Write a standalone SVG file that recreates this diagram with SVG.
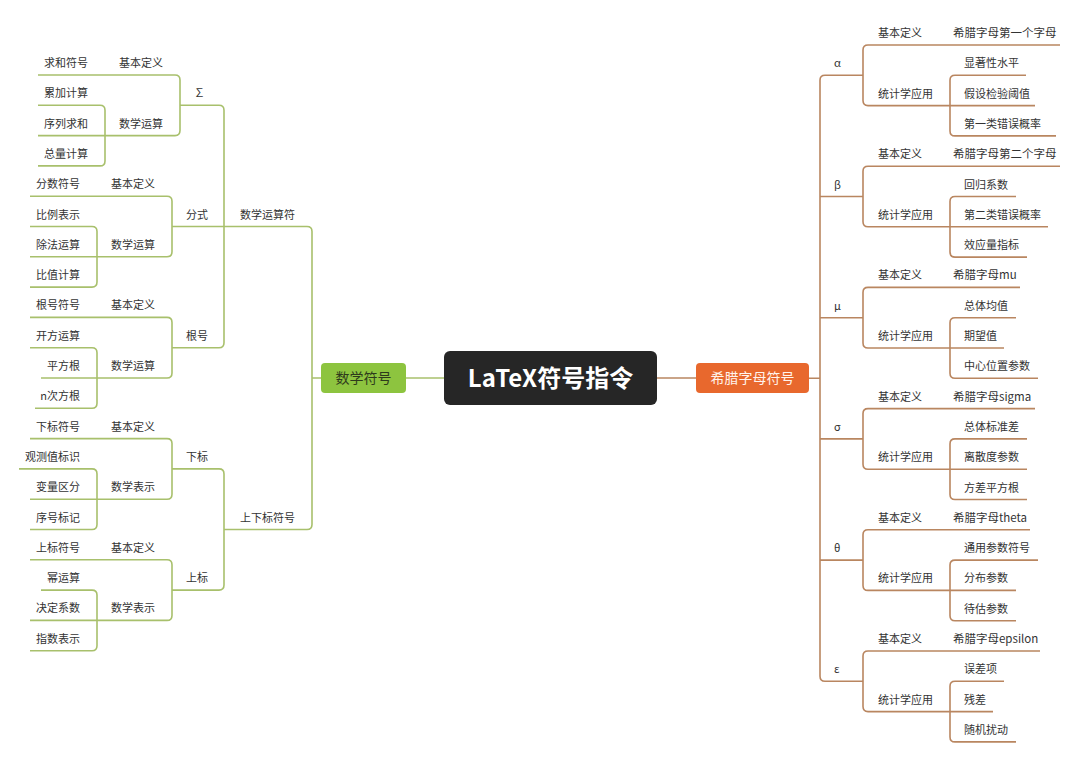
<svg xmlns="http://www.w3.org/2000/svg" width="1080" height="761" viewBox="0 0 1080 761">
<style>
text { font-family: "Noto Sans CJK SC", "Noto Sans", sans-serif; font-size: 11px; fill: #333; }
.e { text-anchor: end; }
.w { font-size: 11.5px; }
.gl { fill: none; stroke: #A8C06C; stroke-width: 1.6; }
.bl { fill: none; stroke: #B98660; stroke-width: 1.6; }
</style>
<rect width="1080" height="761" fill="#ffffff"/>
<g id="connectors">
  <path class="gl" d="M406 378 H444" stroke-width="2"/>
  <path class="bl" d="M657 378 H696" stroke-width="2"/>
  <path class="gl" d="M321 378 H312 M172 226.5 H307 Q312 226.5 312 231.5 V524.5 Q312 529.5 307 529.5 H224"/>
  <path class="gl" d="M180 105.3 H219 Q224 105.3 224 110.3 V342.7 Q224 347.7 219 347.7 H172"/>
  <path class="gl" d="M172 468.9 H219 Q224 468.9 224 473.9 V585.1 Q224 590.1 219 590.1 H172"/>
  <path class="gl" d="M38 75 H175 Q180 75 180 80 V130.6 Q180 135.6 175 135.6 H38"/>
  <path class="gl" d="M38 105.3 H100 Q105 105.3 105 110.3 V160.9 Q105 165.9 100 165.9 H38"/>
  <path class="gl" d="M30 196.2 H167 Q172 196.2 172 201.2 V251.8 Q172 256.8 167 256.8 H30"/>
  <path class="gl" d="M30 226.5 H92 Q97 226.5 97 231.5 V282.1 Q97 287.1 92 287.1 H30"/>
  <path class="gl" d="M30 317.4 H167 Q172 317.4 172 322.4 V373 Q172 378 167 378 H41"/>
  <path class="gl" d="M30 347.7 H92 Q97 347.7 97 352.7 V403.3 Q97 408.3 92 408.3 H35"/>
  <path class="gl" d="M30 438.6 H167 Q172 438.6 172 443.6 V494.2 Q172 499.2 167 499.2 H30"/>
  <path class="gl" d="M19 468.9 H92 Q97 468.9 97 473.9 V524.5 Q97 529.5 92 529.5 H30"/>
  <path class="gl" d="M30 559.8 H167 Q172 559.8 172 564.8 V615.4 Q172 620.4 167 620.4 H30"/>
  <path class="gl" d="M41 590.1 H92 Q97 590.1 97 595.1 V645.7 Q97 650.7 92 650.7 H30"/>
  <path class="bl" d="M809 378.3 H820 M825 75.3 Q820 75.3 820 80.3 V676.3 Q820 681.3 825 681.3"/>
  <path class="bl" d="M825 75.3 H863 M820 196.5 H863 M820 317.7 H863 M820 438.9 H863 M820 560.1 H863 M825 681.3 H863"/>
  <path class="bl" d="M1060 45 H868 Q863 45 863 50 V100.6 Q863 105.6 868 105.6 H1035"/>
  <path class="bl" d="M1026 75.3 H955 Q950 75.3 950 80.3 V130.9 Q950 135.9 955 135.9 H1056"/>
  <path class="bl" d="M1060 166.2 H868 Q863 166.2 863 171.2 V221.8 Q863 226.8 868 226.8 H1048"/>
  <path class="bl" d="M1016 196.5 H955 Q950 196.5 950 201.5 V252.1 Q950 257.1 955 257.1 H1027"/>
  <path class="bl" d="M1020 287.4 H868 Q863 287.4 863 292.4 V343 Q863 348 868 348 H1004"/>
  <path class="bl" d="M1016 317.7 H955 Q950 317.7 950 322.7 V373.3 Q950 378.3 955 378.3 H1038"/>
  <path class="bl" d="M1035 408.6 H868 Q863 408.6 863 413.6 V464.2 Q863 469.2 868 469.2 H1027"/>
  <path class="bl" d="M1027 438.9 H955 Q950 438.9 950 443.9 V494.5 Q950 499.5 955 499.5 H1027"/>
  <path class="bl" d="M1030 529.8 H868 Q863 529.8 863 534.8 V585.4 Q863 590.4 868 590.4 H1016"/>
  <path class="bl" d="M1038 560.1 H955 Q950 560.1 950 565.1 V615.7 Q950 620.7 955 620.7 H1016"/>
  <path class="bl" d="M1040 651 H868 Q863 651 863 656 V706.6 Q863 711.6 868 711.6 H993"/>
  <path class="bl" d="M1004 681.3 H955 Q950 681.3 950 686.3 V736.9 Q950 741.9 955 741.9 H1016"/>
</g>
<g id="root">
  <rect x="444" y="351" width="213" height="54" rx="6" fill="#262626"/>
  <text x="550.5" y="386.5" text-anchor="middle" style="font-size:24px;font-weight:bold;fill:#fff">LaTeX符号指令</text>
</g>
<g id="math">
  <rect x="321" y="363" width="85" height="30" rx="4" fill="#8DC43F"/>
  <text x="363.5" y="383" text-anchor="middle" style="font-size:14px;fill:#2e3a1c">数学符号</text>
</g>
<g id="greek">
  <rect x="696" y="363" width="113" height="30" rx="4" fill="#E8682D"/>
  <text x="752.5" y="383" text-anchor="middle" style="font-size:14px;fill:#fff3ec">希腊字母符号</text>
</g>
<g id="left-l2">
  <text class="e" x="295" y="218.5">数学运算符</text>
  <text class="e" x="295" y="521.5">上下标符号</text>
</g>
<g id="sigma-sum">
  <text class="e" x="205" y="97.3">∑</text>
  <text class="e" x="163" y="67">基本定义</text>
  <text class="e" x="88" y="67">求和符号</text>
  <text class="e" x="163" y="127.6">数学运算</text>
  <text class="e" x="88" y="97.3">累加计算</text>
  <text class="e" x="88" y="127.6">序列求和</text>
  <text class="e" x="88" y="157.9">总量计算</text>
</g>
<g id="frac">
  <text class="e" x="208" y="218.5">分式</text>
  <text class="e" x="155" y="188.2">基本定义</text>
  <text class="e" x="80" y="188.2">分数符号</text>
  <text class="e" x="155" y="248.8">数学运算</text>
  <text class="e" x="80" y="218.5">比例表示</text>
  <text class="e" x="80" y="248.8">除法运算</text>
  <text class="e" x="80" y="279.1">比值计算</text>
</g>
<g id="sqrt">
  <text class="e" x="208" y="339.7">根号</text>
  <text class="e" x="155" y="309.4">基本定义</text>
  <text class="e" x="80" y="309.4">根号符号</text>
  <text class="e" x="155" y="370">数学运算</text>
  <text class="e" x="80" y="339.7">开方运算</text>
  <text class="e" x="80" y="370">平方根</text>
  <text class="e" x="80" y="400.3">n次方根</text>
</g>
<g id="sub">
  <text class="e" x="208" y="460.9">下标</text>
  <text class="e" x="155" y="430.6">基本定义</text>
  <text class="e" x="80" y="430.6">下标符号</text>
  <text class="e" x="155" y="491.2">数学表示</text>
  <text class="e" x="80" y="460.9">观测值标识</text>
  <text class="e" x="80" y="491.2">变量区分</text>
  <text class="e" x="80" y="521.5">序号标记</text>
</g>
<g id="sup">
  <text class="e" x="208" y="582.1">上标</text>
  <text class="e" x="155" y="551.8">基本定义</text>
  <text class="e" x="80" y="551.8">上标符号</text>
  <text class="e" x="155" y="612.4">数学表示</text>
  <text class="e" x="80" y="582.1">幂运算</text>
  <text class="e" x="80" y="612.4">决定系数</text>
  <text class="e" x="80" y="642.7">指数表示</text>
</g>
<g id="alpha">
  <text x="834" y="67.3">α</text>
  <text x="878" y="37">基本定义</text>
  <text class="w" x="953" y="37">希腊字母第一个字母</text>
  <text x="878" y="97.6">统计学应用</text>
  <text x="964" y="67.3">显著性水平</text>
  <text x="964" y="97.6">假设检验阈值</text>
  <text x="964" y="127.9">第一类错误概率</text>
</g>
<g id="beta">
  <text x="834" y="188.5">β</text>
  <text x="878" y="158.2">基本定义</text>
  <text class="w" x="953" y="158.2">希腊字母第二个字母</text>
  <text x="878" y="218.8">统计学应用</text>
  <text x="964" y="188.5">回归系数</text>
  <text x="964" y="218.8">第二类错误概率</text>
  <text x="964" y="249.1">效应量指标</text>
</g>
<g id="mu">
  <text x="834" y="309.7">μ</text>
  <text x="878" y="279.4">基本定义</text>
  <text class="w" x="953" y="279.4">希腊字母mu</text>
  <text x="878" y="340">统计学应用</text>
  <text x="964" y="309.7">总体均值</text>
  <text x="964" y="340">期望值</text>
  <text x="964" y="370.3">中心位置参数</text>
</g>
<g id="sigma">
  <text x="834" y="430.9">σ</text>
  <text x="878" y="400.6">基本定义</text>
  <text class="w" x="953" y="400.6">希腊字母sigma</text>
  <text x="878" y="461.2">统计学应用</text>
  <text x="964" y="430.9">总体标准差</text>
  <text x="964" y="461.2">离散度参数</text>
  <text x="964" y="491.5">方差平方根</text>
</g>
<g id="theta">
  <text x="834" y="552.1">θ</text>
  <text x="878" y="521.8">基本定义</text>
  <text class="w" x="953" y="521.8">希腊字母theta</text>
  <text x="878" y="582.4">统计学应用</text>
  <text x="964" y="552.1">通用参数符号</text>
  <text x="964" y="582.4">分布参数</text>
  <text x="964" y="612.7">待估参数</text>
</g>
<g id="epsilon">
  <text x="834" y="673.3">ε</text>
  <text x="878" y="643">基本定义</text>
  <text class="w" x="953" y="643">希腊字母epsilon</text>
  <text x="878" y="703.6">统计学应用</text>
  <text x="964" y="673.3">误差项</text>
  <text x="964" y="703.6">残差</text>
  <text x="964" y="733.9">随机扰动</text>
</g>
</svg>
